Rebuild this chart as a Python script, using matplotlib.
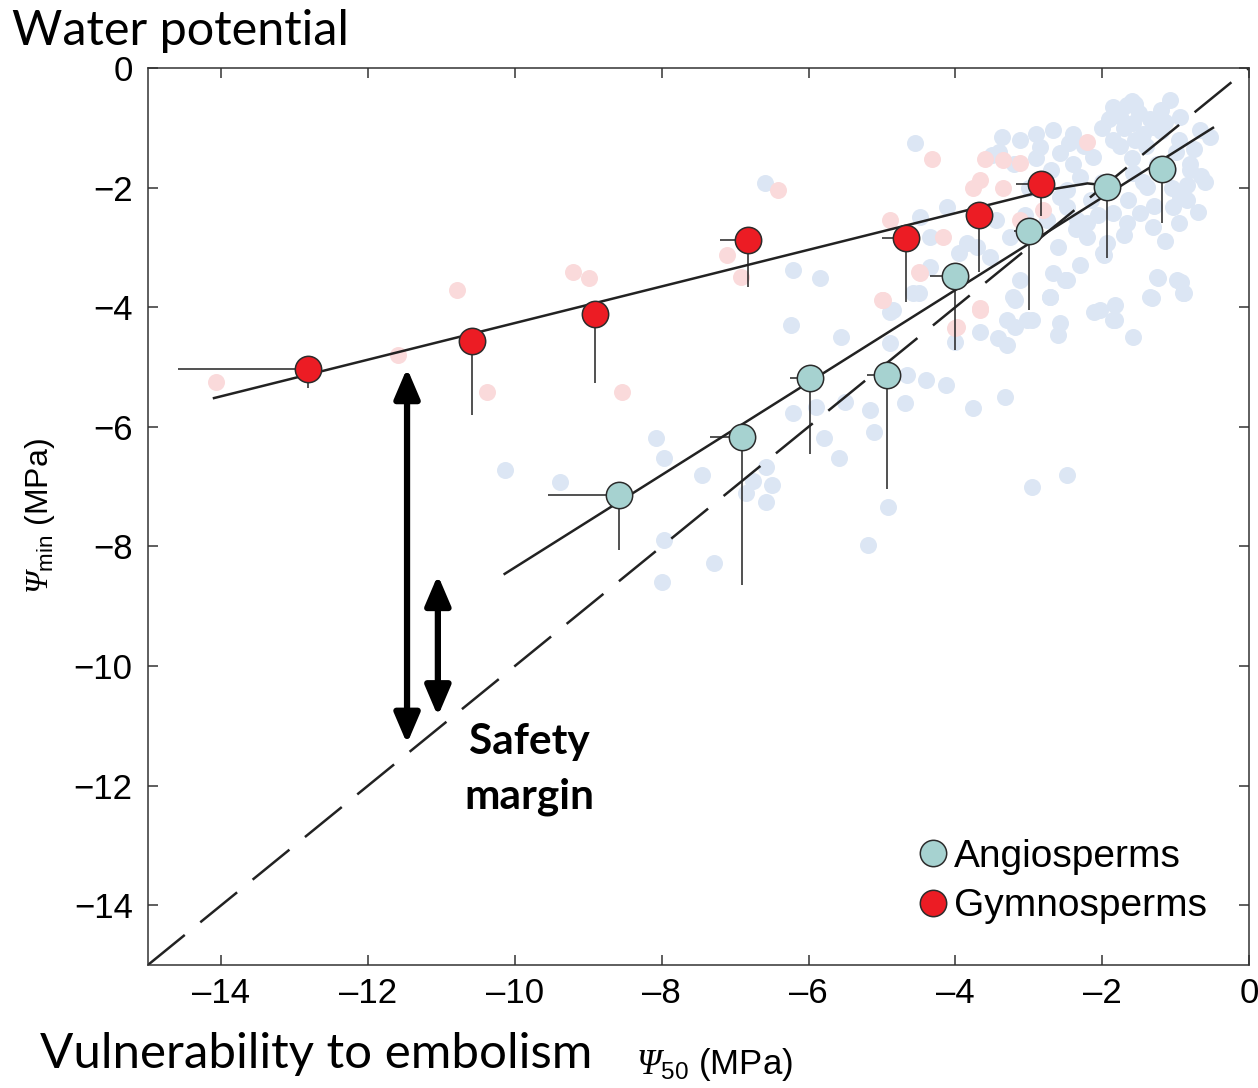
import matplotlib
matplotlib.use("Agg")
import matplotlib.pyplot as plt
from matplotlib.lines import Line2D

plt.rcParams["font.family"] = ["Liberation Sans", "DejaVu Sans"]
plt.rcParams["mathtext.fontset"] = "custom"
plt.rcParams["mathtext.rm"] = "Liberation Sans"
plt.rcParams["mathtext.it"] = "Liberation Sans:italic"
# italic serif Psi (mathtext forces Greek capitals upright in \mathit)
plt.rcParams["mathtext.cal"] = "Liberation Serif:italic"

# ---- group means (psi50, psimin) with one-sided error extents ----
gymno_x = [-12.82, -10.59, -8.91, -6.83, -4.67, -3.68, -2.83]
gymno_y = [-5.03, -4.57, -4.11, -2.88, -2.84, -2.46, -1.94]
gymno_ylow = [-5.35, -5.80, -5.27, -3.66, -3.91, -3.41, -2.47]
gymno_xleft = [-14.59, -10.59, -9.07, -7.21, -5.00, -3.68, -3.17]

angio_x = [-8.58, -6.91, -5.98, -4.93, -4.01, -3.00, -1.93, -1.19]
angio_y = [-7.14, -6.17, -5.18, -5.13, -3.48, -2.73, -1.99, -1.69]
angio_ylow = [-8.06, -8.65, -6.45, -7.04, -4.72, -4.05, -3.18, -2.59]
angio_xleft = [-9.55, -7.34, -6.25, -5.20, -4.35, -3.20, -1.93, -1.19]

# ---- fitted lines ----
gymno_fit_x = [-14.10, -2.70, -2.20, -2.05]
gymno_fit_y = [-5.52, -2.03, -1.93, -1.95]
angio_fit_x = [-10.14, -0.49]
angio_fit_y = [-8.46, -1.00]
one_to_one = [-15, 0]

# ---- species-level background points ----
bg_blue_x = [-4.55, -3.37, -3.12, -2.67, -2.85, -2.57, -1.85, -1.66, -1.08, -1.58,
             -1.31, -0.94, -0.67, -0.53, -1.85, -2.12, -2.30, -2.48, -1.58, -1.39,
             -0.80, -0.94, -1.04, -0.85, -1.48, -1.31, -1.66, -1.85, -2.21, -2.34,
             -2.48, -1.99, -1.93, -4.11, -4.48, -4.35, -3.84, -3.53, -3.26, -2.57,
             -2.67, -2.48, -3.12, -3.21, -2.71, -4.35, -4.58, -4.85, -1.25, -0.98,
             -0.90, -1.35, -2.03, -1.85, -3.30, -3.03, -2.57, -2.90, -2.40, -2.00,
             -1.90, -1.70, -1.50, -1.40, -1.20, -1.00, -0.80, -1.10, -1.60, -2.40,
             -2.70, -2.00, -3.00, -3.20, -1.75, -1.45, -1.20, -2.20, -6.21, -5.84,
             -4.89, -6.24, -5.56, -4.89, -4.50, -4.01, -3.66, -3.42, -3.30, -3.19,
             -2.96, -3.19, -2.71, -2.60, -2.51, -2.11, -1.83, -1.83, -1.58, -1.32,
             -1.24, -0.93, -0.88, -1.98, -8.08, -7.97, -7.45, -6.58, -6.50, -6.58,
             -7.97, -7.29, -8.00, -6.21, -5.90, -5.79, -5.59, -5.50, -5.16, -5.11,
             -4.69, -4.66, -4.40, -4.13, -3.76, -3.32, -4.92, -5.19, -2.96, -2.48,
             -10.14, -9.39, -6.59, -6.75, -6.85, -0.75, -0.60, -1.55, -2.25, -3.50,
             -1.75, -1.55, -1.35, -1.15, -0.95, -1.25, -1.45, -1.65, -1.05, -0.70,
             -2.15, -2.35, -2.60, -2.75, -3.05, -3.45, -3.70, -3.95, -2.05, -1.70,
             -1.30, -0.95, -0.65, -2.30, -2.90, -3.40, -1.60, -1.15, -0.85, -2.45]
bg_blue_y = [-1.25, -1.15, -1.20, -1.04, -1.32, -1.42, -0.65, -0.62, -0.54, -0.92,
             -0.99, -0.82, -1.04, -1.15, -1.20, -1.49, -1.82, -2.04, -1.76, -1.99,
             -1.71, -2.16, -2.32, -2.21, -2.43, -2.66, -2.59, -2.43, -2.82, -2.54,
             -2.32, -3.09, -2.93, -2.32, -2.49, -2.83, -2.93, -3.16, -2.83, -2.16,
             -3.43, -3.55, -3.55, -3.83, -3.83, -3.33, -3.76, -4.05, -3.49, -3.55,
             -3.76, -3.83, -4.05, -4.21, -4.21, -4.21, -4.26, -1.10, -1.10, -1.00,
             -0.85, -1.00, -0.75, -1.30, -0.70, -1.40, -1.60, -1.70, -1.50, -1.60,
             -1.70, -1.90, -2.00, -1.60, -1.30, -1.10, -1.05, -2.60, -3.38, -3.51,
             -4.08, -4.30, -4.50, -4.60, -3.76, -4.58, -4.41, -4.52, -4.63, -4.33,
             -4.21, -3.88, -3.83, -4.46, -3.55, -4.08, -3.96, -4.21, -4.50, -3.85,
             -3.51, -3.58, -3.76, -3.13, -6.19, -6.52, -6.81, -6.67, -6.98, -7.26,
             -7.89, -8.28, -8.60, -5.77, -5.67, -6.19, -6.52, -5.58, -5.72, -6.09,
             -5.60, -5.13, -5.22, -5.30, -5.69, -5.50, -7.34, -7.98, -7.00, -6.81,
             -6.72, -6.92, -1.92, -6.90, -7.10, -1.35, -1.90, -1.20, -1.30, -1.45,
             -0.80, -0.60, -0.85, -0.90, -1.20, -1.60, -1.90, -2.20, -2.00, -2.40,
             -2.20, -2.70, -3.00, -2.55, -2.45, -2.55, -3.00, -3.10, -2.45, -2.80,
             -2.30, -2.60, -1.80, -3.30, -1.50, -1.40, -0.55, -2.90, -1.95, -1.25]

bg_pink_x = [-4.32, -3.60, -3.35, -3.12, -3.66, -3.35, -3.76, -2.21, -4.17, -4.89,
             -4.48, -3.12, -2.81, -3.66, -3.98, -4.99, -7.11, -6.92, -5.00, -4.50,
             -4.01, -3.66, -10.79, -9.21, -8.99, -11.59, -14.07, -10.38, -8.54, -6.42]
bg_pink_y = [-1.52, -1.52, -1.54, -1.59, -1.87, -2.00, -2.00, -1.24, -2.83, -2.54,
             -3.43, -2.54, -2.37, -4.05, -4.33, -3.88, -3.13, -3.49, -3.88, -3.41,
             -4.35, -4.01, -3.71, -3.41, -3.51, -4.80, -5.25, -5.42, -5.42, -2.04]

x_ticks = [-14, -12, -10, -8, -6, -4, -2, 0]
y_ticks = [0, -2, -4, -6, -8, -10, -12, -14]

# safety margin arrows: x, top, bottom
arrow_x = [-11.47, -11.05]
arrow_top = [-5.02, -8.48]
arrow_bottom = [-11.30, -10.84]

RED = "#ec1c24"
TEAL = "#a6d2d0"
EDGE = "#2b2b2b"

fig = plt.figure(figsize=(12.58, 10.88), dpi=100)
ax = fig.add_axes([0.1176, 0.1131, 0.8752, 0.8244])

ax.scatter(bg_blue_x, bg_blue_y, s=150, color="#dce6f4", linewidths=0, zorder=1)
ax.scatter(bg_pink_x, bg_pink_y, s=150, color="#fadadb", linewidths=0, zorder=1.5)

ax.plot(one_to_one, one_to_one, color="#222222", lw=1.8,
        dashes=(19, 8), zorder=2)
ax.plot(gymno_fit_x, gymno_fit_y, color="#222222", lw=1.8, zorder=3)
ax.plot(angio_fit_x, angio_fit_y, color="#222222", lw=1.8, zorder=3)

ax.vlines(gymno_x, gymno_ylow, gymno_y, color="#222222", lw=1.1, zorder=3)
ax.hlines(gymno_y, gymno_xleft, gymno_x, color="#222222", lw=1.1, zorder=3)
ax.vlines(angio_x, angio_ylow, angio_y, color="#222222", lw=1.1, zorder=3)
ax.hlines(angio_y, angio_xleft, angio_x, color="#222222", lw=1.1, zorder=3)

ax.scatter(angio_x, angio_y, s=360, color=TEAL, edgecolors=EDGE,
           linewidths=1.1, zorder=4)
ax.scatter(gymno_x, gymno_y, s=360, color=RED, edgecolors=EDGE,
           linewidths=1.1, zorder=4)

for xa, yt, yb in zip(arrow_x, arrow_top, arrow_bottom):
    ax.annotate("", xy=(xa, yb), xytext=(xa, yt),
                arrowprops=dict(arrowstyle="<|-|>,head_length=0.75,head_width=0.32",
                                lw=4.5, color="black", mutation_scale=24,
                                shrinkA=0, shrinkB=0), zorder=5)

ax.text(-9.80, -11.27, "Safety", family="Lato", weight="bold", fontsize=30.5,
        ha="center", va="center")
ax.text(-9.80, -12.19, "margin", family="Lato", weight="bold", fontsize=30.5,
        ha="center", va="center")

ax.set_xlim(-15, 0)
ax.set_ylim(-15, 0)
ax.set_xticks(x_ticks)
ax.set_yticks(y_ticks)
ax.set_xticklabels(["\u2013" + str(-v) if v < 0 else str(v) for v in x_ticks])
ax.set_yticklabels(["\u2212" + str(-v) if v < 0 else str(v) for v in y_ticks])
ax.tick_params(direction="in", length=7, width=1.1, top=True, right=True,
               labelsize=25, color="#333333")
ax.tick_params(axis="x", pad=9)
ax.tick_params(axis="y", pad=11)
for sp in ax.spines.values():
    sp.set_linewidth(1.1)
    sp.set_color("#333333")

ax.set_ylabel(r"$\mathcal{Ψ}_{\mathrm{min}}$ (MPa)", fontsize=23, labelpad=12)

handles = [
    Line2D([], [], ls="none", marker="o", markersize=19, markerfacecolor=TEAL,
           markeredgecolor=EDGE, markeredgewidth=1.1, label="Angiosperms"),
    Line2D([], [], ls="none", marker="o", markersize=19, markerfacecolor=RED,
           markeredgecolor=EDGE, markeredgewidth=1.1, label="Gymnosperms"),
]
ax.legend(handles=handles, loc="lower right", bbox_to_anchor=(0.987, 0.015),
          frameon=False, fontsize=28, handletextpad=0.05, labelspacing=0.34,
          handlelength=1.0, borderpad=0.2)

fig.text(12 / 1258, 1 - 45 / 1088, "Water potential", family="Lato",
         fontsize=35, va="baseline", ha="left")
fig.text(40 / 1258, 1 - 1068 / 1088, "Vulnerability to embolism", family="Lato",
         fontsize=35.5, va="baseline", ha="left")
fig.text(636 / 1258, 1 - 1074 / 1088, r"$\mathcal{Ψ}_{\mathrm{50}}$ (MPa)",
         fontsize=25, va="baseline", ha="left")

fig.savefig("out.png", dpi=100)
